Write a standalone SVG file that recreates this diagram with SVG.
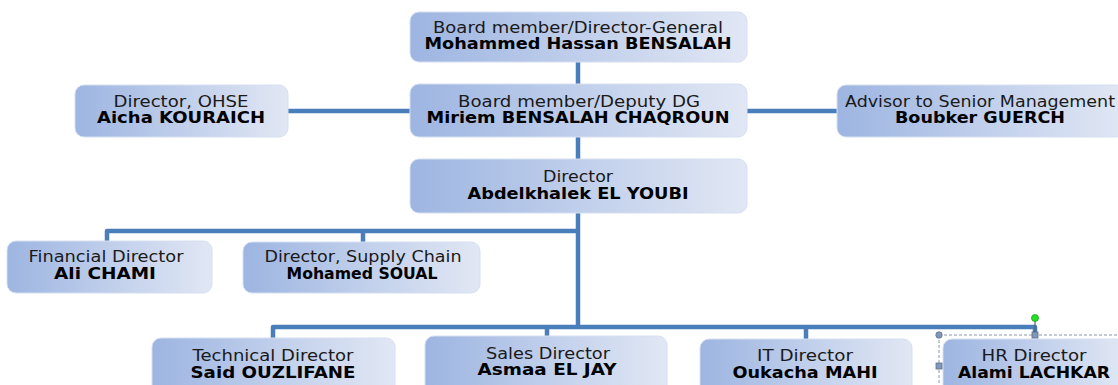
<svg xmlns="http://www.w3.org/2000/svg" width="1118" height="385" viewBox="0 0 1118 385">
<style>
.box{fill:url(#g);stroke:#d6dff0;stroke-width:1}
.t{font-family:"DejaVu Sans","Verdana",sans-serif;font-size:15px;fill:#1a1a1a;text-anchor:middle}
.b{font-weight:bold;fill:#000}
.c{fill:none;stroke:#4a7ebb;stroke-width:4.5;stroke-linejoin:round}
</style>
<defs>
<linearGradient id="g" x1="0" y1="0" x2="1" y2="0">
<stop offset="0" stop-color="#9db5e1"/>
<stop offset="0.55" stop-color="#c3d1ec"/>
<stop offset="1" stop-color="#e1e7f4"/>
</linearGradient>
</defs>
<rect width="1118" height="385" fill="#fff"/>
<g id="connectors">
<path class="c" d="M578 62V84M578 137V159M578 213V327"/>
<path class="c" d="M288 111H410M747 111H837"/>
<path class="c" d="M107 241V231H578M363 231V242"/>
<path class="c" d="M273 338V327H1035V333M547 327V336M806 327V339"/>
</g>
<g id="n-dg">
<rect class="box" x="410" y="12" width="337" height="50" rx="9"/>
<text class="t" x="578" y="33" textLength="290" lengthAdjust="spacingAndGlyphs">Board member/Director-General</text>
<text class="t b" x="578" y="49" textLength="307" lengthAdjust="spacingAndGlyphs">Mohammed Hassan BENSALAH</text>
</g>
<g id="n-deputy">
<rect class="box" x="410" y="84" width="337" height="53" rx="9"/>
<text class="t" x="579" y="107" textLength="242" lengthAdjust="spacingAndGlyphs">Board member/Deputy DG</text>
<text class="t b" x="578" y="123" textLength="303" lengthAdjust="spacingAndGlyphs">Miriem BENSALAH CHAQROUN</text>
</g>
<g id="n-ohse">
<rect class="box" x="75" y="85" width="213" height="52" rx="9"/>
<text class="t" x="181" y="107" textLength="135" lengthAdjust="spacingAndGlyphs">Director, OHSE</text>
<text class="t b" x="181" y="123" textLength="168" lengthAdjust="spacingAndGlyphs">Aicha KOURAICH</text>
</g>
<g id="n-advisor">
<rect class="box" x="837" y="85" width="288" height="52" rx="9"/>
<text class="t" x="980" y="107" textLength="270" lengthAdjust="spacingAndGlyphs">Advisor to Senior Management</text>
<text class="t b" x="980" y="123" textLength="170" lengthAdjust="spacingAndGlyphs">Boubker GUERCH</text>
</g>
<g id="n-director">
<rect class="box" x="410" y="159" width="337" height="54" rx="9"/>
<text class="t" x="578" y="182" textLength="70" lengthAdjust="spacingAndGlyphs">Director</text>
<text class="t b" x="578" y="199" textLength="221" lengthAdjust="spacingAndGlyphs">Abdelkhalek EL YOUBI</text>
</g>
<g id="n-financial">
<rect class="box" x="7" y="241" width="205" height="52" rx="9"/>
<text class="t" x="106" y="262" textLength="155" lengthAdjust="spacingAndGlyphs">Financial Director</text>
<text class="t b" x="105" y="279" textLength="102" lengthAdjust="spacingAndGlyphs">Ali CHAMI</text>
</g>
<g id="n-supply">
<rect class="box" x="243" y="242" width="237" height="51" rx="9"/>
<text class="t" x="363" y="262" textLength="197" lengthAdjust="spacingAndGlyphs">Director, Supply Chain</text>
<text class="t b" x="362" y="279" textLength="151" lengthAdjust="spacingAndGlyphs">Mohamed SOUAL</text>
</g>
<g id="n-technical">
<rect class="box" x="152" y="338" width="243" height="60" rx="9"/>
<text class="t" x="273" y="361" textLength="161" lengthAdjust="spacingAndGlyphs">Technical Director</text>
<text class="t b" x="273" y="378" textLength="165" lengthAdjust="spacingAndGlyphs">Said OUZLIFANE</text>
</g>
<g id="n-sales">
<rect class="box" x="425" y="336" width="242" height="60" rx="9"/>
<text class="t" x="548" y="359" textLength="124" lengthAdjust="spacingAndGlyphs">Sales Director</text>
<text class="t b" x="547" y="375" textLength="139" lengthAdjust="spacingAndGlyphs">Asmaa EL JAY</text>
</g>
<g id="n-it">
<rect class="box" x="700" y="339" width="212" height="60" rx="9"/>
<text class="t" x="805" y="361" textLength="96" lengthAdjust="spacingAndGlyphs">IT Director</text>
<text class="t b" x="805" y="378" textLength="145" lengthAdjust="spacingAndGlyphs">Oukacha MAHI</text>
</g>
<g id="n-hr">
<rect class="box" x="943" y="339" width="182" height="60" rx="9"/>
<text class="t" x="1034" y="361" textLength="105" lengthAdjust="spacingAndGlyphs">HR Director</text>
<text class="t b" x="1034" y="378" textLength="152" lengthAdjust="spacingAndGlyphs">Alami LACHKAR</text>
</g>
<g id="selection">
<path d="M939 335H1118M939 335V385" fill="none" stroke="#8a96a8" stroke-width="1" stroke-dasharray="3 2"/>
<path d="M1035 321V332" stroke="#55606e" stroke-width="1.2"/>
<circle cx="1035" cy="318" r="3.5" fill="#22e022" stroke="#2a9a2a" stroke-width="0.8"/>
<rect x="1032" y="332" width="6" height="6" fill="#8198b8" stroke="#5d6f88" stroke-width="0.8"/>
<circle cx="939" cy="335" r="3.2" fill="#8198b8" stroke="#5d6f88" stroke-width="0.8"/>
<rect x="936" y="363" width="6" height="6" fill="#8198b8" stroke="#5d6f88" stroke-width="0.8"/>
</g>
</svg>
